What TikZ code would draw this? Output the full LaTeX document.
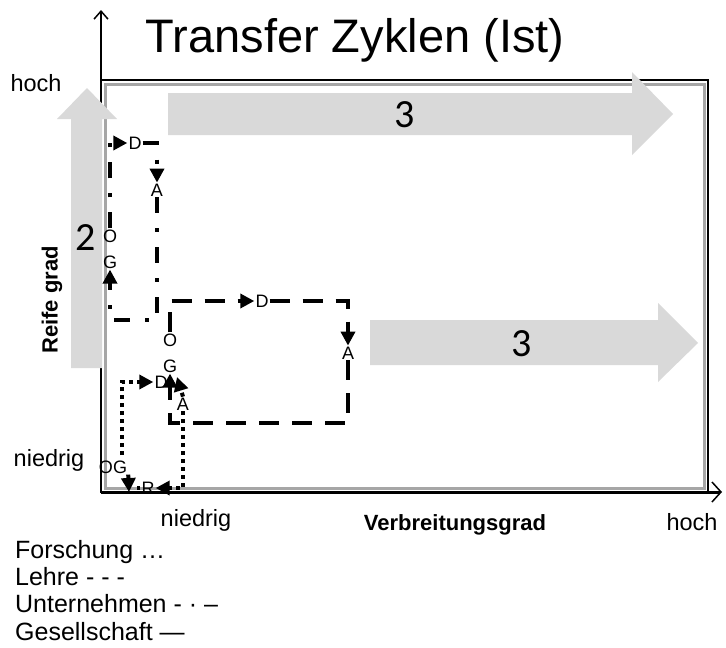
\documentclass[tikz,border=0pt]{standalone}
\usepackage{fontspec}
\setmainfont{Liberation Sans}
\newfontfamily\carlito{Carlito}
\usetikzlibrary{arrows.meta}

\tikzset{
  pfeilgrau/.style={fill=black!15, draw=none},
  zahl/.style={font=\carlito\fontsize{40}{44}\selectfont, inner sep=0pt},
  buchst/.style={font=\fontsize{18}{20}\selectfont, inner sep=1pt},
  achsentext/.style={font=\fontsize{23.5}{26}\selectfont, inner sep=0pt, anchor=base},
  fetttext/.style={font=\bfseries\fontsize{22}{26}\selectfont, inner sep=0pt},
  legende/.style={font=\fontsize{25}{28}\selectfont, anchor=base west, inner sep=0pt},
  spitze/.style={-{Triangle[length=14pt,width=14pt]}},
  forsch/.style={line width=4pt, dash pattern=on 4pt off 4pt},
  lehre/.style={line width=4pt, dash pattern=on 20pt off 13pt},
  unter/.style={line width=4pt, dash pattern=on 16pt off 15pt on 4pt off 15pt},
}

\begin{document}
\begin{tikzpicture}[x=1pt,y=-1pt]
  \useasboundingbox (0,0) rectangle (726,648);
  % 设置边框的位置
  \def\xLinks{101}
  \def\xRechts{708}
  \def\yOben{80}
  \def\yUnten{492}

  % 绘制边框和阴影
  \draw[black!35, line width=3pt] (\xLinks+4,\yOben+4) rectangle (\xRechts-4,\yUnten-4);
  \draw[line width=2pt] (\xLinks,\yOben) rectangle (\xRechts,\yUnten);

  % 绘制坐标轴
  \coordinate (ursprung) at (\xLinks,\yUnten);
  \coordinate (yEnde) at (\xLinks,10);
  \coordinate (xEnde) at (722,\yUnten);
  \draw[line width=1.5pt, -{Straight Barb[length=8pt,width=14pt]}] (ursprung) -- (yEnde);
  \draw[line width=3pt, -{Straight Barb[line width=1.5pt,length=9pt,width=20pt]}] (ursprung) -- (xEnde);

  % 绘制灰色的箭头
  \fill[pfeilgrau] (71,368) -- (71,119) -- (57,119) -- (87,88) -- (117,119) -- (102,119) -- (102,368) -- cycle;
  \fill[pfeilgrau] (168,93) -- (632,93) -- (632,72) -- (673,114) -- (632,155) -- (632,135) -- (168,135) -- cycle;
  \fill[pfeilgrau] (370,320) -- (658,320) -- (658,303) -- (698,343) -- (658,382) -- (658,365) -- (370,365) -- cycle;
  \node[zahl] (zwei) at (86,238) {2};
  \node[zahl] (dreiOben) at (405,115) {3};
  \node[zahl] (dreiMitte) at (522,344) {3};

  % 标题和坐标轴文字
  \node[font=\fontsize{47}{50}\selectfont, inner sep=0pt] (titel) at (355,40) {Transfer Zyklen (Ist)};
  \node[achsentext] (hochY) at (36,91) {hoch};
  \node[achsentext] (niedrigY) at (49,466) {niedrig};
  \node[fetttext, rotate=90] (yTitel) at (52,300) {Reife grad};
  \node[achsentext] (niedrigX) at (196,526) {niedrig};
  \node[fetttext, anchor=base] (xTitel) at (455,530) {Verbreitungsgrad};
  \node[achsentext] (hochX) at (692,530) {hoch};

  % 图例
  \node[legende] (lgForsch) at (15,558) {Forschung …};
  \node[legende] (lgLehre) at (15,585) {Lehre - - -};
  \node[legende] (lgUnter) at (15,612) {Unternehmen - · –};
  \node[legende] (lgGesell) at (15,640) {Gesellschaft —};

  % 企业的循环
  \node[buchst] (uD) at (135,143) {D};
  \node[buchst] (uA) at (157,190) {A};
  \node[buchst] (uO) at (110,236) {O};
  \node[buchst] (uG) at (110,262) {G};
  \coordinate (uLU) at (110,320);
  \draw[unter, spitze] (uO.north) |- (uD.west);
  \draw[unter, spitze] (uD.east) -| (uA.north);
  \draw[unter, spitze] (uA.south) |- (uLU) -- (uG.south);

  % 教学的循环
  \node[buchst] (lD) at (262,301) {D};
  \node[buchst] (lA) at (348,353) {A};
  \node[buchst] (lO) at (170,340) {O};
  \node[buchst] (lG) at (170,366) {G};
  \coordinate (lLU) at (170,423);
  \draw[lehre, spitze] (lO.north) |- (lD.west);
  \draw[lehre, spitze] (lD.east) -| (lA.north);
  \draw[lehre, spitze] (lA.south) |- (lLU) -- (lG.south);

  % 研究的循环
  \node[buchst] (fOG) at (113,467) {OG};
  \node[buchst] (fD) at (161,382) {D};
  \node[buchst] (fA) at (183,404) {A};
  \node[buchst] (fR) at (148,488) {R};
  \coordinate (fLinks) at (122,455);
  \coordinate (fSpitzeA) at (177,377);
  \coordinate (fSpitzeOG) at (129,492);
  \coordinate (fPunkt) at (137,488);
  \draw[forsch, spitze] (fLinks) |- (fD.west);
  \draw[forsch, spitze] (fA.north) -- (fSpitzeA);
  \draw[forsch, spitze] (fA.south) |- (fR.east);
  \draw[forsch] (fR.west) -- (fPunkt);
  \draw[forsch, spitze] (fOG.south east) -- (fSpitzeOG);
\end{tikzpicture}
\end{document}
